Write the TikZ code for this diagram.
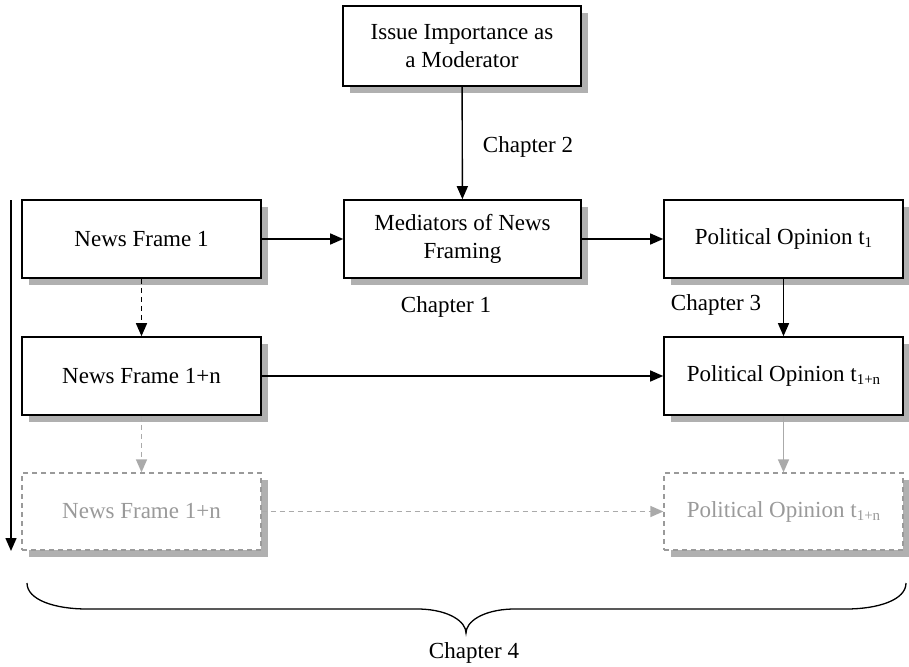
\documentclass[tikz,border=0pt]{standalone}
\usepackage{fontspec}
\setmainfont{Liberation Serif}
\usetikzlibrary{shadows,arrows.meta}
\definecolor{shadowgray}{HTML}{B0B0B0}
\definecolor{fadegray}{HTML}{9A9A9A}
\definecolor{fadearrow}{HTML}{AAAAAA}
\newcommand{\subsm}[1]{\raisebox{-0.3ex}{\fontsize{15}{15}\selectfont #1}}
\tikzset{
  boxbase/.style={rectangle, minimum width=239pt, minimum height=78pt, inner sep=2pt,
    align=center, font=\fontsize{23}{28}\selectfont,
    drop shadow={shadow xshift=7pt, shadow yshift=-7pt, fill=shadowgray, opacity=1}},
  mainbox/.style={boxbase, draw=black, line width=1.6pt, fill=white},
  fadebox/.style={boxbase, draw=fadegray, dashed, dash pattern=on 5pt off 4pt, line width=1.3pt, fill=white, text=fadegray},
  conn/.style={line width=1.4pt, -{Triangle[length=13pt,width=11pt]}},
  fadeconn/.style={conn, draw=fadearrow, color=fadearrow},
  lbl/.style={font=\fontsize{23}{28}\selectfont, inner sep=0pt}
}
\begin{document}
\begin{tikzpicture}[x=1pt,y=-1pt]
\useasboundingbox (0,0) rectangle (909,666);
\node[mainbox, minimum width=238pt, minimum height=80pt] (top) at (462,46) {Issue Importance as\\a Moderator};
\node[mainbox, minimum width=237pt] (med) at (462.5,239) {Mediators of News\\Framing};
\node[mainbox] (nf1) at (141.5,239) {News Frame 1};
\node[mainbox] (po1) at (783.5,239) {Political Opinion t\subsm{1}};
\node[mainbox] (nfn) at (141.5,376) {News Frame 1+n};
\node[mainbox] (pon) at (783.5,376) {Political Opinion t\subsm{1+n}};
\node[fadebox, minimum height=77pt] (nfg) at (141.5,511.5) {News Frame 1+n};
\node[fadebox, minimum height=77pt] (pog) at (783.5,511.5) {Political Opinion t\subsm{1+n}};

\draw[conn] (top) -- (med);
\draw[conn] (nf1) -- (med);
\draw[conn] (med) -- (po1);
\draw[conn] (po1) -- (pon);
\draw[conn, dashed, dash pattern=on 5pt off 4pt] (nf1) -- (nfn);
\draw[conn] (nfn) -- (pon);
\draw[fadeconn, dashed, dash pattern=on 5pt off 4pt] (nfn) -- (nfg);
\draw[fadeconn] (pon) -- (pog);
\draw[fadeconn, dashed, dash pattern=on 5pt off 4pt] (nfg) -- (pog);

\coordinate (tstart) at (11,200);
\coordinate (tend) at (11,551);
\draw[conn] (tstart) -- (tend);

\node[lbl] (ch2) at (528,147) {Chapter 2};
\node[lbl] (ch1) at (446,307) {Chapter 1};
\node[lbl] (ch3) at (716,305) {Chapter 3};
\node[lbl] (ch4) at (474,653) {Chapter 4};

\draw[line width=1.3pt] (27,583) .. controls (27,600) and (55,609) .. (87,609)
  -- (420,609) .. controls (450,610) and (466,622) .. (466,633)
  .. controls (466,622) and (482,610) .. (512,609)
  -- (846,609) .. controls (878,609) and (906,600) .. (906,583);
\end{tikzpicture}
\end{document}
